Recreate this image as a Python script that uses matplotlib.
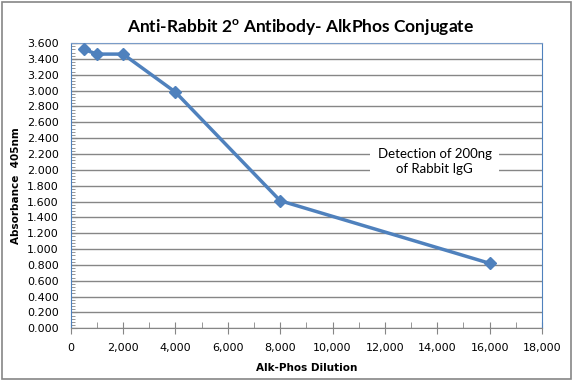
import matplotlib
matplotlib.use('Agg')
import matplotlib.pyplot as plt
from matplotlib.ticker import MultipleLocator, FuncFormatter

# dilution vs absorbance
dilution = [500, 1000, 2000, 4000, 8000, 16000]
absorbance = [3.52, 3.46, 3.46, 2.98, 1.61, 0.82]

title = 'Anti-Rabbit 2$^{\\mathregular{o}}$ Antibody- AlkPhos Conjugate'
x_label = 'Alk-Phos Dilution'
y_label = 'Absorbance  405nm'
note = 'Detection of 200ng\nof Rabbit IgG'

blue = '#4F81BD'
grid_grey = '#868686'

W, H = 573, 381
fig = plt.figure(figsize=(W / 100, H / 100), dpi=100)
# plot area in pixels: x 70.7..542, y 43..328.3
ax = fig.add_axes([70.7 / W, 1 - 328.3 / H, (542 - 70.7) / W, (328.3 - 43) / H])

ax.plot(dilution, absorbance, color=blue, lw=2.5, marker='D', ms=6,
        markeredgecolor=blue, zorder=3, clip_on=False)

ax.set_xlim(0, 18000)
ax.set_ylim(0, 3.6)
ax.xaxis.set_major_locator(MultipleLocator(2000))
ax.xaxis.set_minor_locator(MultipleLocator(1000))
ax.yaxis.set_major_locator(MultipleLocator(0.2))
ax.yaxis.set_minor_locator(MultipleLocator(0.04))
ax.xaxis.set_major_formatter(FuncFormatter(lambda v, p: f'{v:,.0f}'))
ax.yaxis.set_major_formatter(FuncFormatter(lambda v, p: f'{v:.3f}'))

ax.grid(axis='y', which='major', color=grid_grey, lw=1)
ax.set_axisbelow(True)

ax.spines['left'].set_color(blue)
ax.spines['right'].set_color(blue)
ax.spines['top'].set_color('#7A9CC8')
ax.spines['bottom'].set_color(grid_grey)

ax.tick_params(axis='x', which='major', direction='inout', length=8,
               color=grid_grey, labelsize=8, pad=6.5)
ax.tick_params(axis='x', which='minor', direction='in', length=4,
               color=grid_grey)
ax.tick_params(axis='y', which='both', direction='in', color=grid_grey,
               labelsize=8, pad=8.5)
ax.tick_params(axis='y', which='major', length=4)
ax.tick_params(axis='y', which='minor', length=3)

ax.set_xlabel(x_label, fontsize=7.5, fontweight='bold')
ax.xaxis.set_label_coords(0.5, -(362.7 - 328.3) / (328.3 - 43))
ax.set_ylabel(y_label, fontsize=7.5, fontweight='bold', va='center')
ax.yaxis.set_label_coords(-(70.7 - 16) / (542 - 70.7), 0.5)

fig.text(301 / W, 1 - 28 / H, title, ha='center', va='center',
         fontsize=12.5, fontweight='bold', family='Lato')

ax.text(13900, 2.10, note, ha='center', va='center', fontsize=9.5,
        family='Lato', linespacing=1.3,
        bbox=dict(facecolor='white', edgecolor='none', pad=5.5))

# outer chart border
fig.patches.append(plt.Rectangle((2 / W, 2 / H), 569 / W, 377 / H,
                                 transform=fig.transFigure, fill=False,
                                 edgecolor=grid_grey, lw=1.2))

fig.savefig('out.png', dpi=100)
